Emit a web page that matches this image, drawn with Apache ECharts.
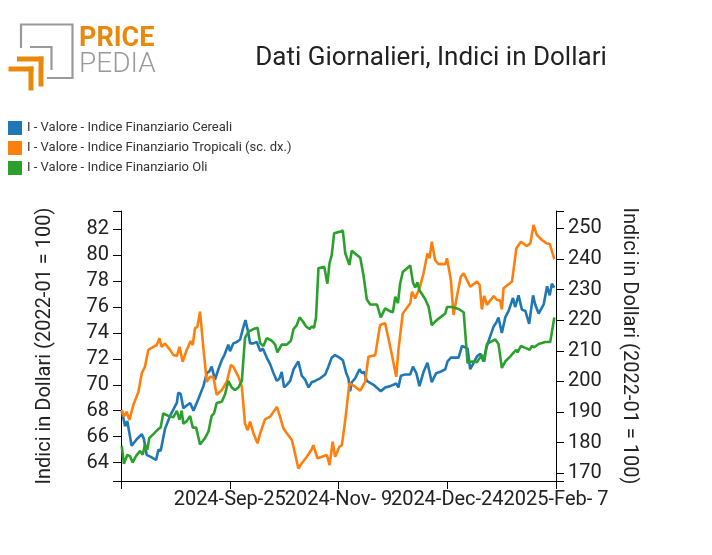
<!DOCTYPE html>
<html><head><meta charset="utf-8">
<script src="https://cdn.jsdelivr.net/npm/echarts@6/dist/echarts.min.js"></script>
<style>html,body{margin:0;padding:0;background:#fff}#c{width:712px;height:555px}</style>
</head><body><div id="c"></div>
<script>
// x values are days since 2024-08-11
const xTickLabels = ['', '2024-Sep-25', '2024-Nov- 9', '2024-Dec-24', '2025-Feb- 7'];
const leftTicks = [64, 66, 68, 70, 72, 74, 76, 78, 80, 82];
const rightTicks = [170, 180, 190, 200, 210, 220, 230, 240, 250];
const seriesNames = [
  'I - Valore - Indice Finanziario Cereali',
  'I - Valore - Indice Finanziario Tropicali (sc. dx.)',
  'I - Valore - Indice Finanziario Oli'
];

const cerealiDay = [0.3,1.7,2.6,4.4,6.5,8.6,9.5,10.6,12.7,14.5,15.5,16.4,18.2,20.3,21.7,23.1,23.7,24.7,25.8,27.2,28.6,30.0,32.0,34.1,35.5,36.6,37.5,38.9,40.3,41.7,42.8,43.5,44.4,45.1,46.5,47.9,49.3,50.4,51.5,52.7,53.4,54.8,56.2,57.6,58.7,60.3,61.7,63.1,64.5,65.6,66.5,67.5,68.6,70.0,71.4,72.7,73.4,74.8,76.2,77.6,78.9,80.3,82.4,84.5,85.8,87.2,88.6,90.4,
  91.8,93.2,94.1,94.8,95.5,96.9,98.7,99.7,100.6,101.7,104.5,107.5,109.3,111.4,113.9,114.8,115.8,117.6,119.7,120.8,122.2,123.5,125.2,126.8,128.6,130.4,132.1,134.2,135.1,136.5,138.3,139.7,141.1,142.4,143.4,144.5,145.9,147.3,148.7,150.0,151.1,152.5,154.2,155.3,156.2,157.6,159.0,160.4,162.2,163.1,164.5,165.9,167.3,168.9,170.5,171.4,172.8,174.9,176.3,177.4,178.3,179.3];
const cerealiVal = [68.0,66.8,67.2,65.3,65.8,66.2,65.8,64.6,64.4,64.2,65.0,64.9,66.6,67.6,68.1,68.6,69.4,69.3,68.2,68.4,68.6,68.0,68.9,69.9,70.9,71.05,71.4,70.4,71.2,71.9,72.3,72.2,73.1,72.6,73.2,73.3,73.5,74.3,75.0,74.0,73.2,73.2,73.3,72.6,72.8,72.1,71.6,70.9,70.3,70.5,71.0,69.8,70.0,70.3,71.2,71.6,71.8,70.7,70.4,69.8,70.2,70.3,70.5,70.8,71.4,72.1,72.3,72.1,
  71.9,70.9,70.5,69.5,70.2,70.5,71.2,70.9,71.0,70.3,70.0,69.5,69.8,69.9,70.1,69.8,70.7,70.8,70.8,71.4,70.9,69.9,71.0,71.7,70.2,70.9,71.0,71.2,71.8,72.1,72.1,72.1,73.0,72.9,72.8,71.2,71.7,72.2,72.4,71.8,72.8,73.6,74.5,74.8,75.2,74.0,75.2,75.7,76.7,76.0,76.9,75.8,75.7,74.7,76.9,76.2,75.5,76.2,77.6,76.9,77.8,77.5];

const tropicaliDay = [0.3,1.2,2.3,3.5,5.1,7.2,8.6,9.9,11.3,13.4,14.8,15.9,16.8,18.2,20.3,21.7,23.1,24.2,25.5,27.2,28.8,29.7,30.6,31.6,32.7,34.1,35.5,36.8,38.2,39.6,41.7,43.8,45.5,46.5,48.6,50.0,51.3,52.4,53.4,54.8,56.5,57.6,59.6,61.7,64.5,65.8,67.2,68.6,70.7,72.0,73.4,74.8,76.9,78.9,79.6,81.3,83.1,85.2,86.3,87.6,88.6,90.4,
  91.4,92.8,94.5,96.9,99.0,101.0,102.4,105.2,107.2,109.3,111.4,112.8,113.9,114.8,116.6,119.7,120.4,121.7,123.5,125.2,126.8,127.7,128.6,130.0,131.4,134.2,134.9,136.5,137.6,139.0,140.6,141.8,144.5,147.3,148.4,149.3,150.3,151.4,154.2,155.6,156.9,157.6,158.3,161.8,163.6,165.5,168.0,169.4,170.7,172.1,174.2,176.0,177.4,179.3];
const tropicaliVal = [190.7,188.5,190.1,187.4,192.3,196.6,202.7,204.8,210.3,211.3,211.9,214.1,211.3,212.4,210.3,208.6,208.3,211.3,206.4,210.3,213.2,211.9,217.3,217.9,222.8,210.8,199.9,201.5,201.5,195.6,197.2,199.9,205.4,204.8,201.5,198.3,186.3,184.1,186.9,183.1,179.8,183.1,187.6,188.5,191.7,188.5,184.7,183.1,180.9,176.5,171.6,173.3,175.4,177.8,179.2,174.9,175.4,176.0,172.7,180.3,175.4,178.7,
  179.2,187.4,199.4,198.3,197.0,199.9,208.1,208.6,218.4,219.0,211.3,205.9,201.5,210.3,222.2,225.5,229.3,227.1,230.4,235.3,241.8,240.2,245.6,239.6,238.3,238.3,240.2,233.1,221.7,227.7,234.2,235.3,230.9,232.6,231.5,223.5,227.9,225.0,227.9,226.6,226.4,223.5,230.4,232.6,243.5,245.6,244.2,245.1,251.1,247.8,246.2,245.1,244.9,239.9];

const oliDay = [0.3,1.2,2.6,3.7,4.8,6.2,7.9,9.0,9.9,10.9,11.7,13.4,15.5,16.4,17.5,19.6,21.7,23.1,24.2,25.1,25.8,27.2,28.6,29.7,31.1,32.7,34.8,36.2,37.5,38.5,39.6,41.7,43.1,44.4,45.8,47.2,48.6,50.0,51.3,52.7,54.8,56.5,57.6,58.9,60.3,62.4,63.8,64.7,66.5,68.6,70.3,71.4,72.7,73.9,75.2,76.6,78.0,78.9,79.9,80.7,81.7,84.1,85.4,86.3,87.2,88.2,90.4,
  91.8,92.8,94.5,95.5,99.0,100.3,101.7,103.1,105.9,107.5,109.3,111.1,112.5,113.5,114.6,115.5,116.6,119.7,120.8,121.7,122.7,123.5,125.9,127.3,128.6,130.7,132.8,134.2,134.9,136.9,139.7,141.8,143.4,145.2,147.3,149.3,150.3,151.4,152.8,154.9,156.2,157.6,159.0,161.1,162.5,163.6,164.1,165.5,167.3,169.1,170.0,171.0,172.8,175.6,177.6,179.3];
const oliVal = [65.3,63.9,64.6,64.5,64.0,64.5,64.9,64.6,65.4,65.0,65.9,66.2,66.6,66.7,67.8,67.6,67.5,68.0,67.3,68.0,67.0,67.2,67.6,66.7,66.7,65.4,65.9,66.4,67.6,67.8,68.6,68.7,69.3,70.3,69.8,69.6,69.8,70.3,73.6,74.1,74.3,74.4,73.2,73.0,73.6,73.4,73.1,72.5,73.1,73.1,73.4,74.3,74.6,75.2,74.9,74.5,74.3,74.5,74.4,75.2,79.0,79.1,77.8,79.4,80.0,81.7,81.8,
  81.9,80.15,79.25,80.35,79.8,78.5,76.6,76.2,76.2,75.2,75.9,75.7,75.6,76.8,76.3,77.8,78.7,79.2,77.9,77.5,77.9,77.3,76.6,76.0,74.6,75.0,75.3,75.5,76.0,76.0,75.85,75.6,71.7,71.8,71.75,72.3,71.8,73.15,73.3,73.5,73.15,71.3,71.8,72.2,72.5,72.7,72.5,73.0,72.85,72.7,73.0,72.9,73.15,73.3,73.3,75.2];

const zip = (a, b) => a.map((d, i) => [d, b[i]]);
const FONT = 'Roboto';
const ORANGE = '#E8890C', GREY = '#9a9a9a';

const chart = echarts.init(document.getElementById('c'), null, {renderer: 'canvas'});
chart.setOption({
  animation: false,
  backgroundColor: '#fff',
  textStyle: {fontFamily: FONT},
  color: ['#1f77b4', '#ff7f0e', '#2ca02c'],
  graphic: [
    {type: 'polyline', shape: {points: [[21,48],[21,24.5],[72.5,24.5],[72.5,78],[47,78]]}, style: {stroke: GREY, lineWidth: 2.2, fill: null}},
    {type: 'polyline', shape: {points: [[30,47],[51.5,47],[51.5,70]]}, style: {stroke: GREY, lineWidth: 2.2, fill: null}},
    {type: 'rect', shape: {x: 17, y: 56.5, width: 26.5, height: 5}, style: {fill: ORANGE}},
    {type: 'rect', shape: {x: 38.5, y: 56.5, width: 5, height: 30}, style: {fill: ORANGE}},
    {type: 'rect', shape: {x: 8.5, y: 66.5, width: 25, height: 5}, style: {fill: ORANGE}},
    {type: 'rect', shape: {x: 28.5, y: 66.5, width: 5, height: 24}, style: {fill: ORANGE}},
    {type: 'text', left: 79, top: 26, style: {text: 'PRICE', font: 'bold 27px ' + FONT, fill: ORANGE}},
    {type: 'text', left: 79, top: 51, style: {text: 'PEDIA', font: '300 28px ' + FONT, fill: GREY}},
    {type: 'text', x: 431, y: 58, style: {text: 'Dati Giornalieri, Indici in Dollari', font: '26px ' + FONT, fill: '#222', align: 'center', verticalAlign: 'middle'}}
  ],
  legend: {
    orient: 'vertical', left: 3, top: 116, itemWidth: 14, itemHeight: 14, itemGap: 6,
    icon: 'rect', textStyle: {fontSize: 13, color: '#333', fontFamily: FONT},
    data: seriesNames
  },
  grid: {left: 121, right: 156, top: 211, bottom: 74, containLabel: false},
  xAxis: {
    type: 'value', min: 0, max: 180, interval: 45,
    axisLine: {lineStyle: {color: '#000', width: 1}},
    axisTick: {length: 8, lineStyle: {color: '#000'}},
    axisLabel: {fontSize: 20, color: '#222', margin: 9, fontFamily: FONT,
      formatter: v => xTickLabels[Math.round(v / 45)]},
    splitLine: {show: false}
  },
  yAxis: [
    {
      type: 'value', position: 'left', min: 62.58, max: 83.41,
      name: 'Indici in Dollari (2022-01 = 100)', nameLocation: 'middle', nameGap: 66, nameRotate: 90,
      nameTextStyle: {fontSize: 20, color: '#222', fontFamily: FONT},
      axisLine: {show: true, lineStyle: {color: '#000'}},
      axisTick: {show: true, length: 8, lineStyle: {color: '#000'}, customValues: [62.58].concat(leftTicks, [83.41])},
      axisLabel: {fontSize: 20, color: '#222', margin: 12, fontFamily: FONT, customValues: leftTicks},
      splitLine: {show: false}
    },
    {
      type: 'value', position: 'right', min: 167.5, max: 255.65,
      name: 'Indici in Dollari (2022-01 = 100)', nameLocation: 'middle', nameGap: 63, nameRotate: -90,
      nameTextStyle: {fontSize: 20, color: '#222', fontFamily: FONT},
      axisLine: {show: true, lineStyle: {color: '#000'}},
      axisTick: {show: true, length: 8, lineStyle: {color: '#000'}, customValues: [167.5].concat(rightTicks, [255.65])},
      axisLabel: {fontSize: 20, color: '#222', margin: 12, fontFamily: FONT, customValues: rightTicks},
      splitLine: {show: false}
    }
  ],
  series: [
    {name: seriesNames[0], type: 'line', yAxisIndex: 0, data: zip(cerealiDay, cerealiVal), showSymbol: false, lineStyle: {width: 2.6}},
    {name: seriesNames[1], type: 'line', yAxisIndex: 1, data: zip(tropicaliDay, tropicaliVal), showSymbol: false, lineStyle: {width: 2.6}},
    {name: seriesNames[2], type: 'line', yAxisIndex: 0, data: zip(oliDay, oliVal), showSymbol: false, lineStyle: {width: 2.6}}
  ]
});
</script>
</body></html>
